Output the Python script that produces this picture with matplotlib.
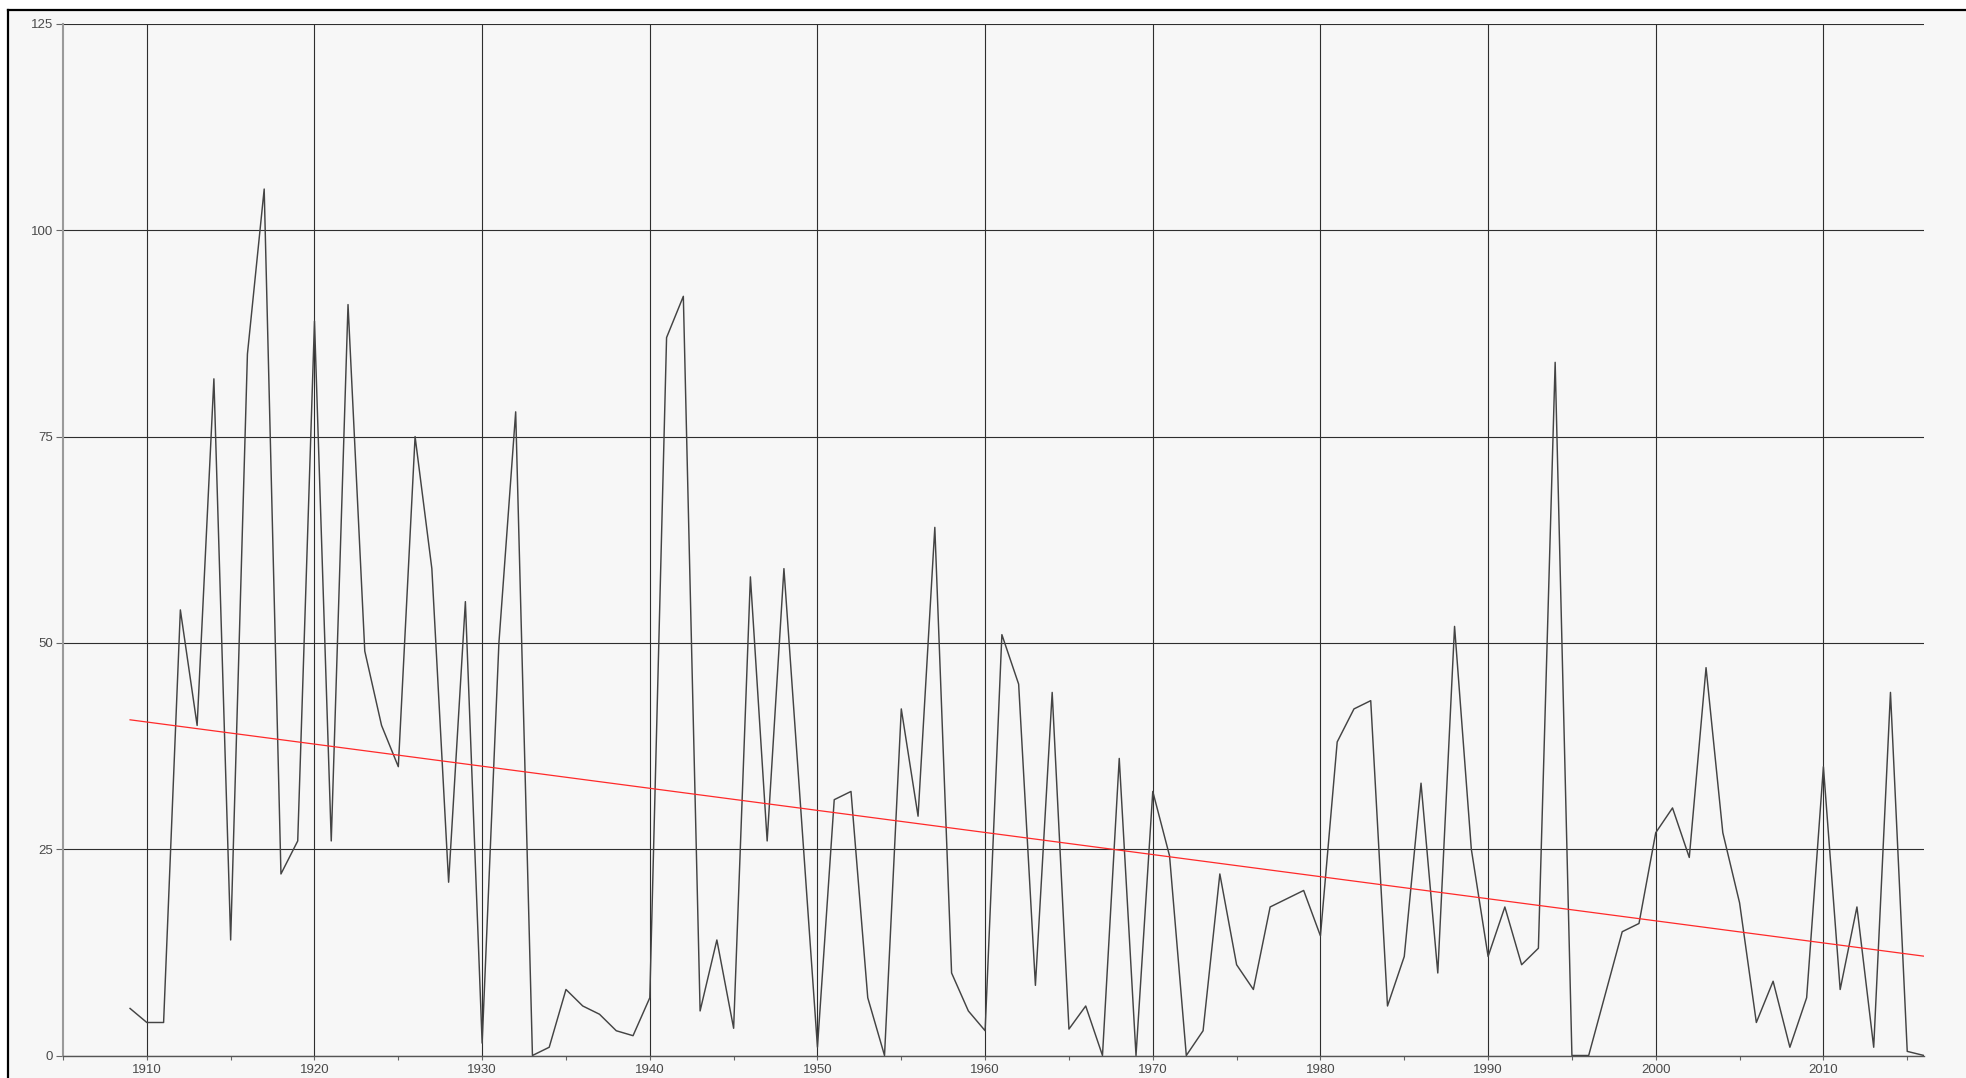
import numpy as np
import matplotlib
matplotlib.use("Agg")
import matplotlib.pyplot as plt
from matplotlib.patches import Rectangle
from matplotlib.lines import Line2D
from matplotlib.ticker import MultipleLocator

# yearly values, 1909-2016
years = list(range(1909, 2017))
values = [
    5.7, 4, 4, 54, 40, 82, 14, 85, 105, 22,        # 1909-1918
    26, 89, 26, 91, 49, 40, 35, 75, 59, 21,        # 1919-1928
    55, 1.5, 50, 78, 0, 1, 8, 6, 5, 3,             # 1929-1938
    2.4, 7, 87, 92, 5.4, 14, 3.3, 58, 26, 59,      # 1939-1948
    30, 1, 31, 32, 7, 0, 42, 29, 64, 10,           # 1949-1958
    5.4, 3, 51, 45, 8.5, 44, 3.2, 6, 0, 36,        # 1959-1968
    0, 32, 24.2, 0, 3, 22, 11, 8, 18, 19,          # 1969-1978
    20, 14.5, 38, 42, 43, 6, 12, 33, 10, 52,       # 1979-1988
    25, 12, 18, 11, 13, 84, 0, 0, 7.5, 15,         # 1989-1998
    16, 27, 30, 24, 47, 27, 18.5, 4, 9, 1,         # 1999-2008
    7, 35, 8, 18, 1, 44, 0.5, 0,                   # 2009-2016
]
y_ticks = [0, 25, 50, 75, 100, 125]
x_ticks = list(range(1910, 2011, 10))

W, H = 1966, 1078
fig = plt.figure(figsize=(W / 100, H / 100), dpi=100, facecolor="white")

# panel background and its top/left frame
fig.patches.append(Rectangle((8 / W, 0), 1, 1 - 10 / H, transform=fig.transFigure,
                             facecolor="#f7f7f7", edgecolor="none", zorder=-10))
fig.lines.append(Line2D([8 / W, 1], [1 - 10 / H, 1 - 10 / H], transform=fig.transFigure,
                        color="black", lw=1.6, zorder=-5))
fig.lines.append(Line2D([8 / W, 8 / W], [0, 1 - 10 / H], transform=fig.transFigure,
                        color="black", lw=1.6, zorder=-5))

ax = fig.add_axes([63 / W, 22.5 / H, (1924 - 63) / W, (1054 - 22.5) / H])
ax.set_facecolor("#f7f7f7")

ax.plot(years, values, color="#444444", lw=1.05, zorder=3)

# linear trend
coef = np.polyfit(years, values, 1)
tx = np.array([years[0], years[-1]])
ax.plot(tx, np.polyval(coef, tx), color="#ff2a2a", lw=0.9, zorder=4)

ax.set_xlim(1905, 2016)
ax.set_ylim(0, 125)
ax.set_xticks(x_ticks)
ax.xaxis.set_minor_locator(MultipleLocator(5))
ax.set_yticks(y_ticks)

ax.grid(True, which="major", color="#2e2e2e", lw=0.8, zorder=1)
ax.set_axisbelow(True)

for s in ("top", "right"):
    ax.spines[s].set_visible(False)
ax.spines["left"].set_color("#9a9a9a")
ax.spines["left"].set_linewidth(1.5)
ax.spines["bottom"].set_color("#555555")
ax.spines["bottom"].set_linewidth(1.0)

font = ["Liberation Sans Narrow", "Liberation Sans", "DejaVu Sans"]
ax.tick_params(axis="x", which="both", length=3, width=0.8, color="#666666",
               labelsize=9.5, labelcolor="#4a4a4a", pad=3)
ax.tick_params(axis="y", length=5, width=0.8, color="#666666",
               labelsize=9.5, labelcolor="#4a4a4a", pad=2)
for lab in ax.get_xticklabels() + ax.get_yticklabels():
    lab.set_family(font)

fig.savefig("out.png", dpi=100, facecolor="white")
